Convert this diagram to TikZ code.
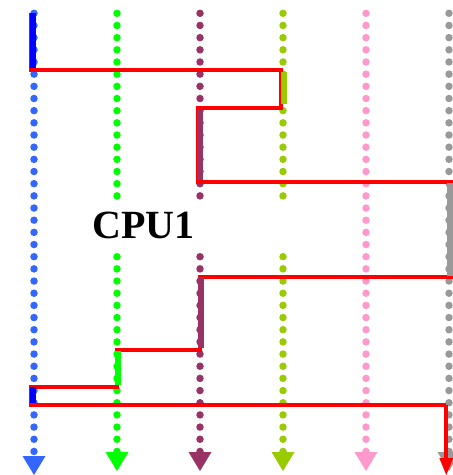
\documentclass[tikz,border=0pt]{standalone}
\usepackage{fontspec}
\setmainfont{Liberation Serif}
\usetikzlibrary{arrows.meta}

\definecolor{LaneBlue}{RGB}{51,102,255}
\definecolor{LaneGreen}{RGB}{0,255,0}
\definecolor{LanePurple}{RGB}{153,51,102}
\definecolor{LaneOlive}{RGB}{153,204,0}
\definecolor{LanePink}{RGB}{255,153,204}
\definecolor{LaneGray}{RGB}{153,153,153}
\definecolor{RunBlue}{RGB}{0,0,255}
\definecolor{TraceRed}{RGB}{255,0,0}

\tikzset{
  lane/.style={line width=7.5pt, line cap=round, dash pattern=on 0pt off 12.17pt,
    -{Triangle[width=23pt,length=19pt,line width=0pt]}},
  run/.style={line width=6pt},
  trace/.style={line width=4pt, draw=TraceRed},
}

\begin{document}
\begin{tikzpicture}[x=1pt, y=-1pt]

    \useasboundingbox (0,0) rectangle (453,475);

    % time lines, one per task
    \foreach \name/\x/\col/\tip in {blue/34/LaneBlue/475, green/117/LaneGreen/471,
        purple/200/LanePurple/471, olive/283/LaneOlive/471,
        pink/366/LanePink/471, gray/449/LaneGray/471} {
        \coordinate (\name-top) at (\x,13.3);
        \coordinate (\name-end) at (\x,\tip);
        \draw[lane, \col] (\name-top) -- (\name-end);
    }

    % room for the label
    \fill[white] (100,200) rectangle (300,253);
    \node (cpu) [anchor=base west, inner sep=0pt, font=\bfseries\fontsize{40}{48}\selectfont]
        at (92,238.5) {CPU1};

    % the scheduling trace
    \foreach \i/\x/\y in {0/30.5/13.3, 1/30.5/70, 2/281/70, 3/281/108,
        4/198/108, 5/198/182, 6/452/182, 7/452/276.7, 8/199.5/276.7,
        9/199.5/349.5, 10/117/349.5, 11/117/386.5, 12/31/386.5,
        13/31/404.5, 14/446.3/404.5, 15/446.3/475}
        \coordinate (t\i) at (\x,\y);
    \draw[trace] (t0) -- (t1) -- (t2) -- (t3) -- (t4) -- (t5) -- (t6) -- (t7)
        -- (t8) -- (t9) -- (t10) -- (t11) -- (t12) -- (t13) -- (t14);
    \draw[trace, -{Triangle[width=14pt,length=17pt,line width=0pt]}] (t14) -- (t15);

    % running slices
    \draw[run, RunBlue] (32.5,13.3) -- (32.5,68);
    \draw[run, LaneOlive] (284,72) -- (284,104);
    \draw[run, LanePurple] (200,110) -- (200,180);
    \draw[run, LaneGray] (449.7,183) -- (449.7,276);
    \draw[run, LanePurple] (201,277) -- (201,348);
    \draw[run, LaneGreen] (117.5,351) -- (117.5,385);
    \draw[run, RunBlue] (32.5,387.3) -- (32.5,402.7);

\end{tikzpicture}
\end{document}
